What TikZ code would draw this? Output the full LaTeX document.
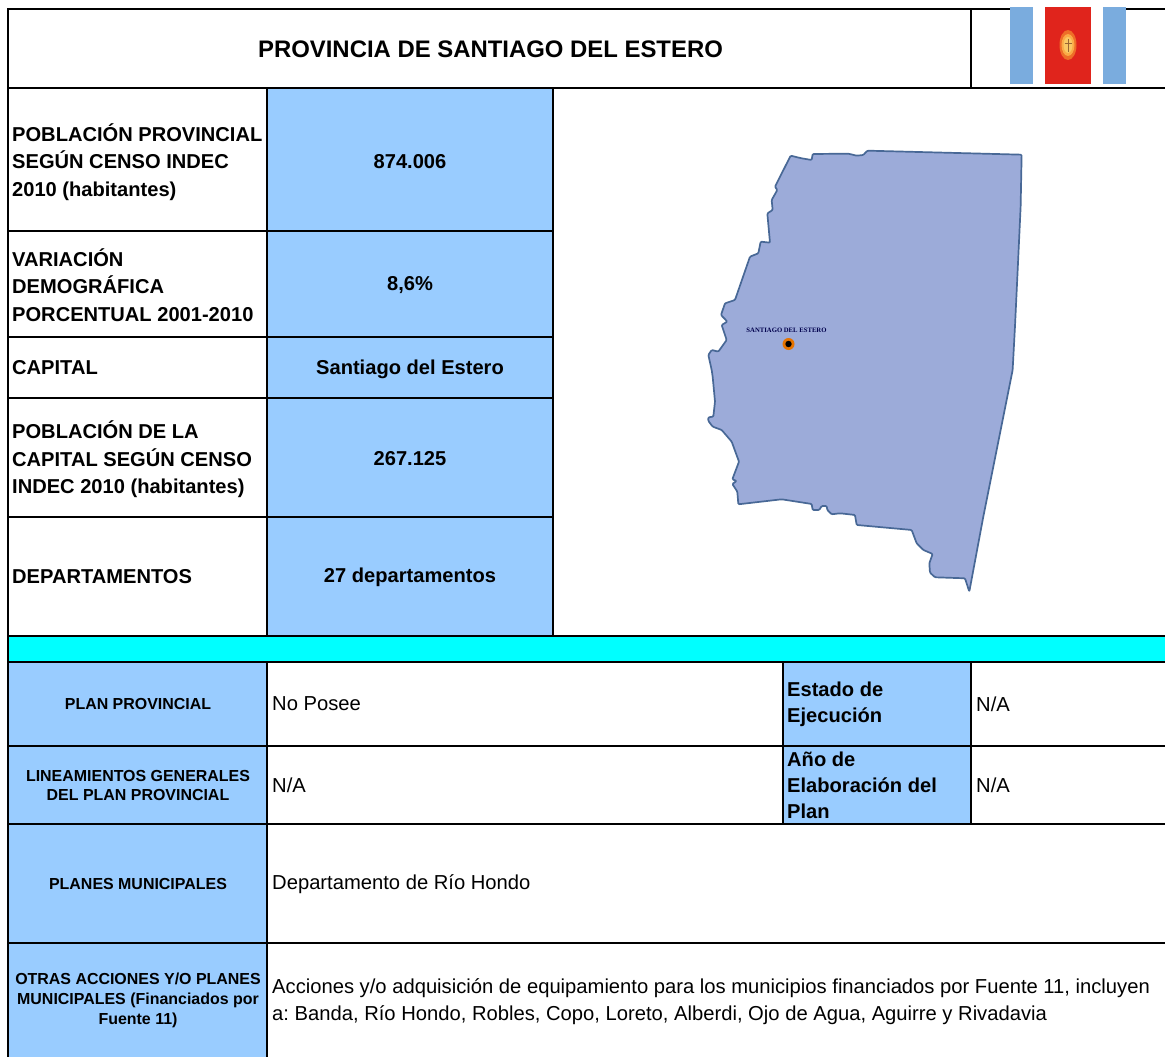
\documentclass[tikz,border=0pt]{standalone}
\usepackage{fontspec}
\setmainfont{Liberation Sans}
\frenchspacing
\definecolor{cellblue}{RGB}{153,204,255}
\definecolor{bandcyan}{RGB}{0,255,255}
\definecolor{flagblue}{RGB}{122,172,222}
\definecolor{flagred}{RGB}{224,36,28}
\definecolor{sunglow}{RGB}{238,110,40}
\definecolor{sunmid}{RGB}{250,170,70}
\definecolor{suncore}{RGB}{250,200,100}
\definecolor{mapfill}{RGB}{156,171,217}
\definecolor{mapline}{RGB}{72,104,150}
\tikzset{
  x=1pt,y=-1pt,
  grid/.style={line width=2pt,black},
  lab/.style={font=\bfseries\fontsize{20.1}{27.5}\selectfont,align=left,anchor=west,inner sep=0pt,text=black},
  val/.style={font=\bfseries\fontsize{20.1}{27}\selectfont,align=center,inner sep=0pt,text=black},
  sub/.style={font=\bfseries\fontsize{15.95}{19.7}\selectfont,align=center,inner sep=0pt,text=black},
  body/.style={font=\fontsize{20.2}{27}\selectfont,align=left,anchor=west,inner sep=0pt,text=black},
  labtight/.style={lab,font=\bfseries\fontsize{20.1}{26}\selectfont},
}
\begin{document}
\begin{tikzpicture}
\useasboundingbox (0,0) rectangle (1165,1057);
\fill[white] (0,0) rectangle (1165,1057);
% fills
\fill[cellblue] (267,88) rectangle (553,636);
\fill[bandcyan] (8,636) rectangle (1165,662);
\fill[cellblue] (8,662) rectangle (267,1057);
\fill[cellblue] (783,662) rectangle (971,824);
% grid
\draw[grid] (7,9)--(1165,9);
\draw[grid] (8,9)--(8,1057);
\draw[grid] (8,88)--(1165,88);
\draw[grid] (8,231)--(553,231);
\draw[grid] (8,337)--(553,337);
\draw[grid] (8,398)--(553,398);
\draw[grid] (8,517)--(553,517);
\draw[grid] (8,636)--(1165,636);
\draw[grid] (8,662)--(1165,662);
\draw[grid] (8,746)--(1165,746);
\draw[grid] (8,824)--(1165,824);
\draw[grid] (8,943)--(1165,943);
\draw[grid] (267,88)--(267,636);
\draw[grid] (267,662)--(267,1057);
\draw[grid] (553,88)--(553,636);
\draw[grid] (971,9)--(971,89);
\draw[grid] (783,662)--(783,824);
\draw[grid] (971,662)--(971,824);
% flag
\fill[white] (1010,7) rectangle (1126,84);
\fill[flagblue] (1010,7) rectangle (1033,84);
\fill[flagred] (1044.5,7) rectangle (1091,84);
\fill[flagblue] (1103,7) rectangle (1126,84);
\fill[sunglow] (1068,45) ellipse (8.5 and 15);
\fill[sunmid] (1068,45) ellipse (6.5 and 11);
\fill[suncore] (1068,45) ellipse (4.5 and 8);
\draw[brown!80!black,line width=.7pt] (1068,39)--(1068,52) (1064.5,43)--(1071.5,43);
% map
\begin{scope}[shift={(690,140)},x=.3333pt,y=-.3333pt]
\draw[fill=mapfill,draw=mapline,line width=1.7pt,line join=round,rounded corners=1pt]
 (302,47)--(335,55)--(365,60)--(368,42)--(475,41)--(500,47)--(520,45)--(532,32)--(995,44)--(992,200)--(985,350)--(975,560)--(968,690)
 --(920,930)--(880,1130)--(838,1355)--(825,1315)--(735,1312)--(720,1298)--(718,1270)--(728,1242)--(700,1230)--(680,1210)--(665,1170)
 --(500,1155)--(495,1125)--(450,1120)--(425,1123)--(412,1110)--(410,1098)--(395,1098)--(388,1110)--(368,1110)--(365,1092)--(275,1078)--(145,1093)
 --(142,1055)--(127,1032)--(140,1023)--(127,1018)--(147,965)--(125,905)--(95,870)--(68,860)--(55,843)--(55,832)--(70,830)--(75,785)--(68,710)--(65,690)
 --(55,645)--(65,630)--(85,635)--(110,600)--(95,555)--(112,545)--(93,525)--(105,490)--(135,480)--(180,350)--(205,340)--(212,305)--(240,308)
 --(232,220)--(248,210)--(245,180)--(262,150)--(255,140)--cycle;
\end{scope}
\fill[orange!90!black] (788.5,344) circle (6);
\fill[black] (788.5,344) circle (3.2);
\node[inner sep=0pt,text=black!70!blue] (mapcap) at (786.5,330) {\fontspec{Liberation Serif}\bfseries\fontsize{6.7}{8}\selectfont SANTIAGO DEL ESTERO};
% text
\node[font=\bfseries\fontsize{23.9}{28}\selectfont,inner sep=0pt] (title) at (490.5,49) {PROVINCIA DE SANTIAGO DEL ESTERO};
\node[lab] (l1) at (12,162) {POBLACIÓN PROVINCIAL\\SEGÚN CENSO INDEC\\2010 (habitantes)};
\node[lab] (l2) at (12,285) {VARIACIÓN\\DEMOGRÁFICA\\PORCENTUAL 2001-2010};
\node[lab] (l3) at (12,368) {CAPITAL};
\node[lab] (l4) at (12,459.5) {POBLACIÓN DE LA\\CAPITAL SEGÚN CENSO\\INDEC 2010 (habitantes)};
\node[lab] (l5) at (12,577) {DEPARTAMENTOS};
\node[val] (v1) at (410,162) {874.006};
\node[val] (v2) at (410,285) {8,6\%};
\node[val] (v3) at (410,369) {Santiago del Estero};
\node[val] (v4) at (410,459) {267.125};
\node[val] (v5) at (410,577.5) {27 departamentos};
\node[sub] (s1) at (138,704) {PLAN PROVINCIAL};
\node[sub] (s2) at (138,785.5) {LINEAMIENTOS GENERALES\\DEL PLAN PROVINCIAL};
\node[sub] (s3) at (138,884) {PLANES MUNICIPALES};
\node[sub] (s4) at (138,1000.5) {OTRAS ACCIONES Y/O PLANES\\MUNICIPALES (Financiados por\\Fuente 11)};
\node[body] (b1) at (272,704) {No Posee};
\node[body] (b2) at (272,785) {N/A};
\node[body] (b3) at (272,884.5) {Departamento de Río Hondo};
\node[body] (b4) at (272,1002) {Acciones y/o adquisición de equipamiento para los municipios financiados por Fuente 11, incluyen\\a: Banda, Río Hondo, Robles, Copo, Loreto, Alberdi, Ojo de Agua, Aguirre y Rivadavia};
\node[labtight] (e1) at (787,704.5) {Estado de\\Ejecución};
\node[labtight] (e2) at (787,785.5) {Año de\\Elaboración del\\Plan};
\node[body] (n1) at (976,704) {N/A};
\node[body] (n2) at (976,785) {N/A};
\end{tikzpicture}
\end{document}
